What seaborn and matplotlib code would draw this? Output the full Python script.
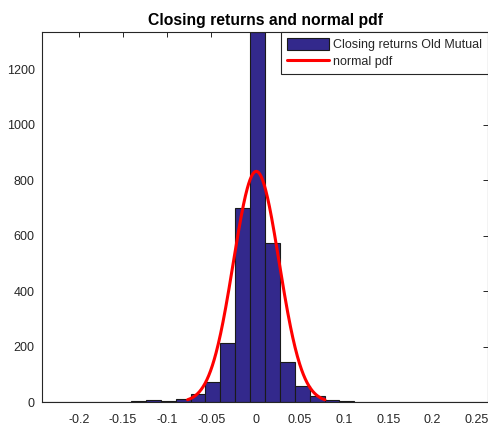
import numpy as np
import pandas as pd
import matplotlib
matplotlib.use("Agg")
import matplotlib.pyplot as plt
from matplotlib.patches import Patch
from matplotlib.lines import Line2D
import seaborn as sns

# Histogram of daily closing returns: 30 equal bins spanning the data range
x_min, x_max = -0.2419, 0.2633
counts = [1, 0, 0, 0, 0, 2, 4, 8, 6, 12, 30, 72, 212, 700, 1335,
          574, 146, 60, 22, 10, 4, 2, 2, 2, 1, 1, 0, 0, 0, 1]

# Fitted normal distribution
mu, sigma = 0.0008, 0.0259

xticks = [-0.2, -0.15, -0.1, -0.05, 0, 0.05, 0.1, 0.15, 0.2, 0.25]
xtick_labels = ["-0.2", "-0.15", "-0.1", "-0.05", "0", "0.05", "0.1", "0.15", "0.2", "0.25"]
yticks = [0, 200, 400, 600, 800, 1000, 1200]

title = "Closing returns and normal pdf"
hist_label = "Closing returns Old Mutual"
pdf_label = "normal pdf"

sns.set_style("white")
plt.rcParams["font.family"] = ["Liberation Sans", "DejaVu Sans"]

bar_color = "#33298C"
axis_color = "#262626"

n_bins = len(counts)
width = (x_max - x_min) / n_bins
centers = x_min + width * (np.arange(n_bins) + 0.5)
df = pd.DataFrame({"ret": centers, "n": counts})

# normal pdf scaled to counts, drawn over mu +/- 3 sigma
xs = np.linspace(mu - 3 * sigma, mu + 3 * sigma, 300)
pdf = np.exp(-0.5 * ((xs - mu) / sigma) ** 2) / (sigma * np.sqrt(2 * np.pi))
pdf_df = pd.DataFrame({"ret": xs, "y": pdf * sum(counts) * width})

fig = plt.figure(figsize=(4.89, 4.28), dpi=100)
ax = fig.add_axes([0.0853, 0.06, 0.9133, 0.866])

sns.histplot(data=df, x="ret", weights="n", bins=n_bins, binrange=(x_min, x_max),
             ax=ax, color=bar_color, alpha=1.0, edgecolor="#1a1a1a", linewidth=0.8)
sns.lineplot(data=pdf_df, x="ret", y="y", ax=ax, color="red", linewidth=2.2)

ax.set_xlim(x_min, x_max)
ax.set_ylim(0, max(counts))
ax.set_xticks(xticks)
ax.set_xticklabels(xtick_labels)
ax.set_yticks(yticks)
ax.set_xlabel("")
ax.set_ylabel("")
ax.set_title(title, fontsize=11.3, fontweight="bold", color="black", pad=5)

for s in ax.spines.values():
    s.set_visible(True)
    s.set_color(axis_color)
    s.set_linewidth(0.8)
ax.tick_params(direction="in", length=3.5, width=0.7, colors=axis_color,
               labelsize=9, top=True, right=True)
ax.tick_params(axis="x", pad=8.5)
ax.tick_params(axis="y", pad=5)
for lab in ax.get_xticklabels() + ax.get_yticklabels():
    lab.set_color(axis_color)

handles = [Patch(facecolor=bar_color, edgecolor="#1a1a1a", linewidth=0.8, label=hist_label),
           Line2D([0], [0], color="red", linewidth=2.2, label=pdf_label)]
leg = ax.legend(handles=handles, loc="upper right", borderaxespad=0.0, fontsize=9,
                frameon=True, fancybox=False, framealpha=1.0, edgecolor=axis_color,
                handlelength=3.4, handleheight=1.05, handletextpad=0.3,
                borderpad=0.5, labelspacing=0.3)
leg.get_frame().set_linewidth(0.8)

fig.savefig("out.png", dpi=100)
